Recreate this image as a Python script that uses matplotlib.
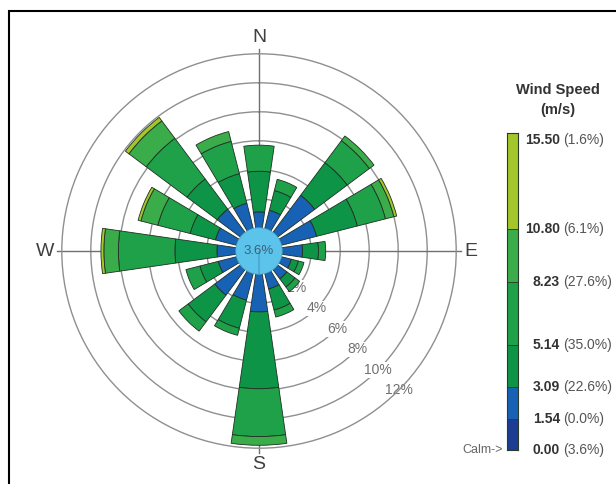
import numpy as np
import matplotlib.pyplot as plt
from matplotlib.patches import Rectangle
from matplotlib.transforms import blended_transform_factory

plt.rcParams['font.family'] = ['Liberation Sans', 'DejaVu Sans']

directions = ['N', 'NNE', 'NE', 'ENE', 'E', 'ESE', 'SE', 'SSE',
              'S', 'SSW', 'SW', 'WSW', 'W', 'WNW', 'NW', 'NNW']

# frequency (%) of each speed class, per direction
pct_154_309 = [1.1, 1.3, 3.2, 2.5, 1.4, 0.7, 0.8, 1.1, 2.6, 1.9, 2.2, 1.3, 1.3, 1.5, 2.0, 1.8]
pct_309_514 = [2.8, 1.4, 2.8, 2.9, 1.1, 0.5, 0.7, 1.5, 5.3, 2.0, 2.3, 1.3, 2.9, 1.8, 2.6, 2.1]
pct_514_823 = [1.8, 0.8, 1.9, 2.0, 0.5, 0.4, 0.4, 0.5, 3.3, 0.5, 0.8, 1.0, 3.9, 2.3, 3.5, 2.3]
pct_823_1080 = [0.0, 0.0, 0.4, 0.6, 0.0, 0.0, 0.0, 0.0, 0.6, 0.0, 0.0, 0.0, 1.0, 1.2, 1.5, 0.7]
pct_1080_1550 = [0.0, 0.0, 0.0, 0.2, 0.0, 0.0, 0.0, 0.0, 0.0, 0.0, 0.0, 0.0, 0.2, 0.2, 0.3, 0.0]

calm_pct = 3.6
ring_pcts = [2, 4, 6, 8, 10, 12]

speed_edges = [0.00, 1.54, 3.09, 5.14, 8.23, 10.80, 15.50]
edge_pcts = ['3.6%', '0.0%', '22.6%', '35.0%', '27.6%', '6.1%', '1.6%']
class_colors = ['#1d3d94', '#1862b5', '#0e9446', '#1fa14a', '#3aad4a', '#a3c62b']

W, H = 616, 484
fig = plt.figure(figsize=(W / 100, H / 100), dpi=100)

# radial unit = 1 %, calm disc occupies the inner 1.6 units
calm_r = 1.6
r_max = calm_r + ring_pcts[-1]
px_per_unit = 14.5
cx, cy = 259, 251
rad_px = r_max * px_per_unit
ax = fig.add_axes([(cx - rad_px) / W, (H - cy - rad_px) / H, 2 * rad_px / W, 2 * rad_px / H],
                  projection='polar')
ax.set_theta_zero_location('N')
ax.set_theta_direction(-1)
ax.set_ylim(0, r_max)
ax.set_axisbelow(True)

ax.set_thetagrids([])
ax.set_rgrids([calm_r + p for p in ring_pcts[:-1]], labels=[''] * (len(ring_pcts) - 1))
ax.yaxis.grid(True, color='#8f8f8f', linewidth=1.0)
ax.spines['polar'].set_color('#8f8f8f')
ax.spines['polar'].set_linewidth(1.0)

# compass cross
for a in [0, 90, 180, 270]:
    ax.plot([np.deg2rad(a)] * 2, [0, 13.9], color='#707070', lw=1.0, zorder=1, clip_on=False)

# ring labels along the SE diagonal
for p in ring_pcts:
    ax.text(np.deg2rad(135), calm_r + p, f'{p}%', ha='center', va='center', fontsize=10,
            color='#707070', zorder=2,
            bbox=dict(facecolor='white', edgecolor='none', pad=0.6))

theta = np.deg2rad(np.arange(16) * 22.5)
width = np.deg2rad(16.5)
base = np.full(16, calm_r)
classes = [pct_154_309, pct_309_514, pct_514_823, pct_823_1080, pct_1080_1550]
for vals, col in zip(classes, class_colors[1:]):
    vals = np.array(vals)
    mask = vals > 0
    ax.bar(theta[mask], vals[mask], width=width, bottom=base[mask], color=col,
           edgecolor='#1f2f22', linewidth=0.6, zorder=3)
    base = base + vals

# calm disc
ax.bar(0, calm_r, width=2 * np.pi, bottom=0, color='#5cc3ea', edgecolor='#4aa9d0',
       linewidth=0.6, zorder=4)
ax.text(0, 0, f'{calm_pct}%', ha='center', va='center', fontsize=9.5, color='#3d5f7a', zorder=5)

label_r = 14.15
ax.text(0, label_r, 'N', ha='center', va='bottom', fontsize=14, color='#404040', clip_on=False)
ax.text(np.pi, label_r, 'S', ha='center', va='top', fontsize=14, color='#404040', clip_on=False)
ax.text(np.pi / 2, label_r, 'E', ha='left', va='center', fontsize=14, color='#404040', clip_on=False)
ax.text(3 * np.pi / 2, label_r, 'W', ha='right', va='center', fontsize=14, color='#404040',
        clip_on=False)

# speed scale bar
cb_top, cb_bot = 133, 450
cax = fig.add_axes([507 / W, (H - cb_bot) / H, 11 / W, (cb_bot - cb_top) / H])
cax.bar(0, np.diff(speed_edges), bottom=speed_edges[:-1], width=1, color=class_colors,
        edgecolor='#2a3a2a', linewidth=0.6)
cax.set_xlim(-0.5, 0.5)
cax.set_ylim(speed_edges[0], speed_edges[-1])
cax.set_xticks([])
cax.set_yticks([])
for s in cax.spines.values():
    s.set_color('#2a3a2a')
    s.set_linewidth(0.8)

tr = blended_transform_factory(fig.transFigure, cax.transData)
for i, (v, p) in enumerate(zip(speed_edges, edge_pcts)):
    va = 'top' if i == len(speed_edges) - 1 else 'center'
    cax.text(560 / W, v, f'{v:.2f}', transform=tr, ha='right', va=va, fontsize=10,
             fontweight='bold', color='#333333')
    cax.text(563 / W, v, f'({p})', transform=tr, ha='left', va=va, fontsize=10,
             color='#555555')
cax.text(503 / W, 0, 'Calm->', transform=tr, ha='right', va='center', fontsize=9,
         color='#666666')

fig.text(558 / W, 1 - 90 / H, 'Wind Speed', ha='center', va='center', fontsize=10.5,
         fontweight='bold', color='#333333')
fig.text(558 / W, 1 - 110 / H, '(m/s)', ha='center', va='center', fontsize=10.5,
         fontweight='bold', color='#333333')

# frame
fig.patches.append(Rectangle((9 / W, -0.1), 1.2, (H - 11) / H + 0.1, transform=fig.transFigure,
                             fill=False, edgecolor='black', linewidth=1.5))

fig.savefig('out.png', dpi=100)
